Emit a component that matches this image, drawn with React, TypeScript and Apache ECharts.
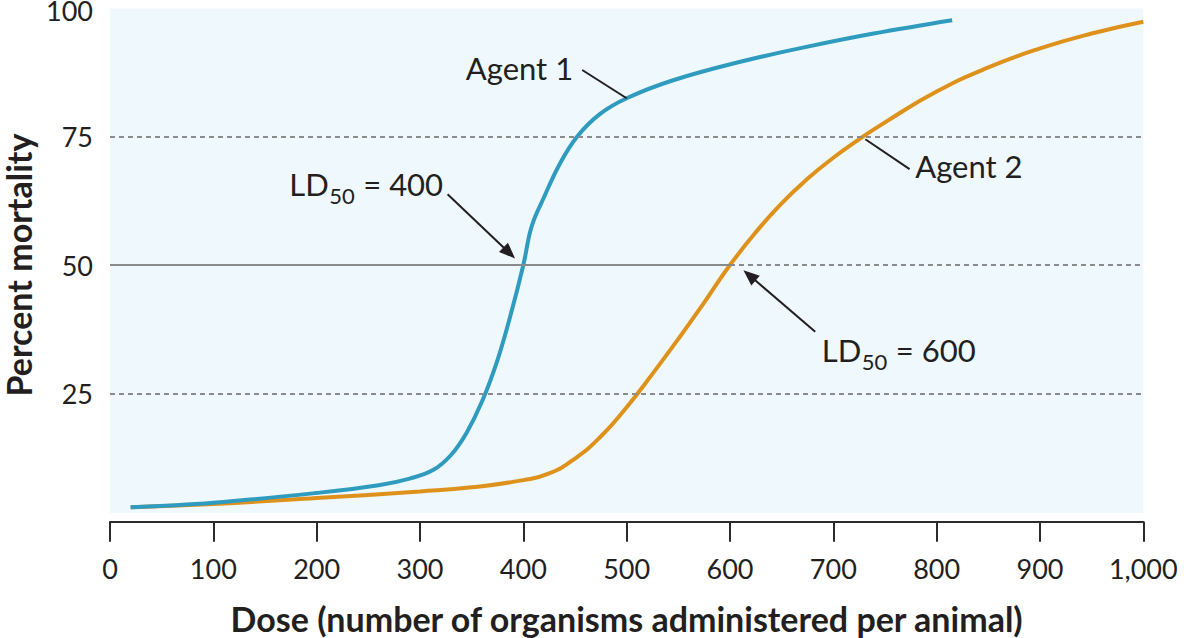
import React, { useEffect, useRef } from "react";
import * as echarts from "echarts";

// ---- data ----
const agent1Dose = [20, 100, 200, 260, 290, 313, 330, 345, 360, 375, 388, 400, 408, 420, 435, 452, 474, 500, 545, 610, 674, 739, 815];
const agent1Mortality = [2.8, 3.7, 5.6, 7.1, 8.4, 10.1, 13.0, 17.3, 23.4, 31.5, 40.5, 50, 57.5, 63.2, 69.6, 75, 79.4, 82.5, 86, 89.6, 92.5, 95.1, 97.7];
const agent2Dose = [20, 100, 200, 300, 350, 400, 425, 450, 475, 500, 525, 550, 575, 600, 625, 650, 675, 700, 725, 750, 800, 850, 900, 950, 1000];
const agent2Mortality = [2.8, 3.45, 4.6, 5.9, 6.7, 8.1, 9.4, 12.3, 16.6, 22.3, 28.8, 35.6, 42.7, 50, 56.4, 62.0, 66.8, 70.9, 74.5, 77.8, 83.8, 88.5, 92.2, 95.1, 97.4];
const yTickValues = [25, 50, 75, 100];
const dashedGuides = [25, 75];
const ld50Agent1 = 400;
const ld50Agent2 = 600;
const xMin = 0;
const xMax = 1000;
const xInterval = 100;

const FONT = "Lato, 'Open Sans', 'DejaVu Sans', sans-serif";
const TEXT = "#231f20";
const BLUE = "#2f9bbf";
const ORANGE = "#de921b";
const GUIDE = "#8a8b8d";
const BG = "#eff8fd";

function measure(text: string, size: number): number {
  const c = document.createElement("canvas").getContext("2d");
  if (!c) return text.length * size * 0.55;
  c.font = `${size}px Lato`;
  return c.measureText(text).width;
}

export default function App() {
  const ref = useRef<HTMLDivElement>(null);
  useEffect(() => {
    const chart = echarts.init(ref.current!, null, { renderer: "svg" });
    const option: any = {
      animation: false,
      grid: { left: 110, right: 40.7, top: 8.4, bottom: 116.3, containLabel: false, outerBoundsMode: "none" },
      xAxis: {
        type: "value",
        min: xMin,
        max: xMax,
        interval: xInterval,
        name: "Dose (number of organisms administered per animal)",
        nameLocation: "middle",
        nameGap: 80,
        nameTextStyle: { fontFamily: FONT, fontSize: 34, fontWeight: "bold", color: TEXT },
        axisLine: { show: true, lineStyle: { color: "#2b2b2b", width: 2 } },
        axisTick: { show: true, length: 20, lineStyle: { color: "#2b2b2b", width: 2 } },
        axisLabel: {
          margin: 33,
          fontFamily: FONT,
          fontSize: 27,
          color: TEXT,
          formatter: (v: number) => v.toLocaleString("en-US"),
        },
        splitLine: { show: false },
      },
      yAxis: {
        type: "value",
        min: 0,
        max: 100,
        interval: 25,
        name: "Percent mortality",
        nameLocation: "middle",
        nameGap: 72,
        nameTextStyle: { fontFamily: FONT, fontSize: 34, fontWeight: "bold", color: TEXT, lineHeight: 34 },
        axisLine: { show: false },
        axisTick: { show: false },
        splitLine: { show: false },
        axisLabel: {
          margin: 17,
          fontFamily: FONT,
          fontSize: 27,
          color: TEXT,
          formatter: (v: number) =>
            yTickValues.indexOf(v) < 0 ? "" : v === 100 ? `{top|${v}}` : String(v),
          rich: {
            top: { fontFamily: FONT, fontSize: 27, color: TEXT, lineHeight: 22, padding: [5, 0, 0, 0] },
          },
        },
      },
      series: [
        {
          name: "guides",
          type: "line",
          data: [],
          z: 1,
          silent: true,
          markArea: {
            silent: true,
            itemStyle: { color: BG },
            data: [[{ coord: [xMin, 1.7] }, { coord: [xMax, 100] }]],
          },
          markLine: {
            silent: true,
            symbol: "none",
            label: { show: false },
            data: [
              ...dashedGuides.map((v) => [
                { coord: [xMin, v], lineStyle: { type: [5, 4], color: GUIDE, width: 2 } },
                { coord: [xMax, v] },
              ]),
              [
                { coord: [xMin, 50], lineStyle: { type: "solid", color: GUIDE, width: 2 } },
                { coord: [ld50Agent2, 50] },
              ],
              [
                { coord: [ld50Agent2, 50], lineStyle: { type: [5, 4], color: GUIDE, width: 2 } },
                { coord: [xMax, 50] },
              ],
            ],
          },
        },
        {
          name: "Agent 2",
          type: "line",
          z: 3,
          showSymbol: false,
          smooth: 0.5,
          lineStyle: { color: ORANGE, width: 4 },
          data: agent2Dose.map((d, i) => [d, agent2Mortality[i]]),
        },
        {
          name: "Agent 1",
          type: "line",
          z: 4,
          showSymbol: false,
          smooth: 0.4,
          lineStyle: { color: BLUE, width: 4 },
          data: agent1Dose.map((d, i) => [d, agent1Mortality[i]]),
        },
      ],
    };
    chart.setOption(option);

    const P = (d: number, m: number) => chart.convertToPixel({ gridIndex: 0 }, [d, m]) as number[];
    const lineStyle = { stroke: TEXT, lineWidth: 2 };
    const arrow = (from: number[], to: number[]) => {
      const s = P(from[0], from[1]);
      const t = P(to[0], to[1]);
      const dx = t[0] - s[0];
      const dy = t[1] - s[1];
      const len = Math.sqrt(dx * dx + dy * dy);
      const ux = dx / len;
      const uy = dy / len;
      const L = 16;
      const W = 6.5;
      const bx = t[0] - ux * L;
      const by = t[1] - uy * L;
      return [
        { type: "line", shape: { x1: s[0], y1: s[1], x2: bx + ux * 2, y2: by + uy * 2 }, style: lineStyle, z: 10 },
        {
          type: "polygon",
          shape: { points: [[t[0], t[1]], [bx - uy * W, by + ux * W], [bx + uy * W, by - ux * W]] },
          style: { fill: TEXT },
          z: 10,
        },
      ];
    };
    const leader = (from: number[], to: number[]) => {
      const s = P(from[0], from[1]);
      const t = P(to[0], to[1]);
      return { type: "line", shape: { x1: s[0], y1: s[1], x2: t[0], y2: t[1] }, style: lineStyle, z: 10 };
    };
    const label = (text: string, at: number[], align: string) => {
      const p = P(at[0], at[1]);
      return {
        type: "text",
        x: p[0],
        y: p[1],
        z: 10,
        style: { text, fill: TEXT, font: `31px ${FONT}`, align, verticalAlign: "middle" },
      };
    };
    const ldLabel = (value: number, at: number[]) => {
      const p = P(at[0], at[1]);
      const wLD = measure("LD", 31);
      const wSub = measure("50", 22);
      return [
        { type: "text", x: p[0], y: p[1], z: 10, style: { text: "LD", fill: TEXT, font: `31px ${FONT}`, align: "left", verticalAlign: "middle" } },
        { type: "text", x: p[0] + wLD + 0.5, y: p[1] + 11.5, z: 10, style: { text: "50", fill: TEXT, font: `22px ${FONT}`, align: "left", verticalAlign: "middle" } },
        { type: "text", x: p[0] + wLD + wSub + 1, y: p[1], z: 10, style: { text: ` = ${value}`, fill: TEXT, font: `31px ${FONT}`, align: "left", verticalAlign: "middle" } },
      ];
    };

    chart.setOption({
      graphic: [
        label("Agent 1", [448.2, 88.3], "right"),
        leader([457, 88], [500, 82.5]),
        label("Agent 2", [779.3, 69.2], "left"),
        leader([731, 74.5], [773.8, 68.7]),
        ...ldLabel(ld50Agent1, [173.5, 65.8]),
        ...arrow([326.7, 63.8], [392, 51.3]),
        ...ldLabel(ld50Agent2, [688.9, 33.45]),
        ...arrow([682.5, 37.0], [613, 49.0]),
      ],
    });

    return () => chart.dispose();
  }, []);
  return <div ref={ref} style={{ position: "absolute", left: 0, top: 0, width: 1184, height: 638 }} />;
}
